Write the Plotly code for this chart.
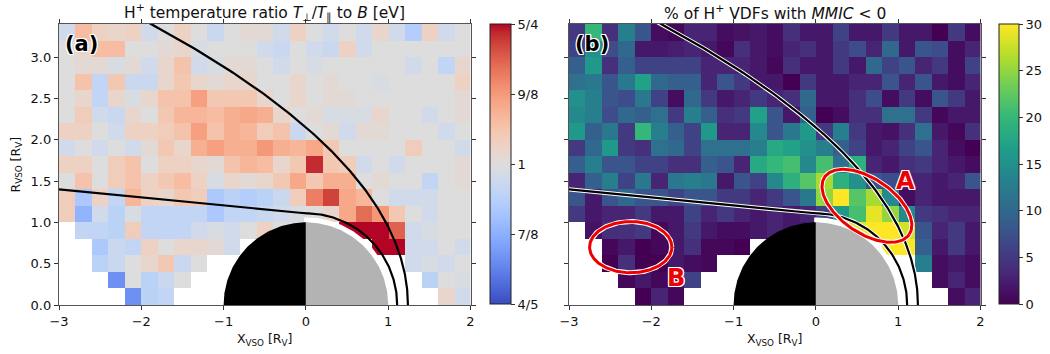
import numpy as np
import plotly.graph_objects as go

# ---------------------------------------------------------------- data
# spatial bins (Venus radii)
x_edges = np.linspace(-3.0, 2.0, 26)
y_edges = np.linspace(0.0, 3.4, 18)

N = None
# H+ temperature anisotropy T_perp / T_par, rows from R = 3.2-3.4 down to R = 0.0-0.2
ratio_rows = [
    [0.98, 1.07, 1.03, 1.02, 1.03, 0.98, 1.00, 1.03, 1.00, 0.97, 1.00, 1.01, 1.01, 0.98, 1.03, 1.00, 0.98, 1.00, 0.98, 1.02, 0.98, 0.94, 1.03, 0.98, 1.00],
    [1.00, 1.02, 1.07, 1.07, 1.00, 1.00, 1.01, 1.02, 0.99, 1.00, 1.00, 1.00, 0.98, 0.97, 1.00, 0.98, 0.97, 1.03, 0.98, 1.00, 1.00, 1.00, 1.00, 1.00, 1.00],
    [1.00, 1.01, 1.01, 0.99, 1.01, 0.98, 1.02, 1.06, 0.98, 0.99, 1.01, 1.01, 1.00, 0.98, 1.00, 0.99, 1.00, 1.00, 1.00, 1.00, 1.00, 0.98, 1.00, 0.96, 1.02],
    [1.00, 1.06, 0.96, 1.05, 0.97, 0.97, 1.02, 1.05, 1.02, 1.01, 1.02, 1.02, 1.00, 1.00, 1.02, 1.00, 1.01, 1.00, 1.00, 0.99, 1.00, 1.00, 1.00, 1.00, 1.03],
    [1.00, 1.02, 0.96, 1.02, 0.99, 1.02, 1.06, 1.06, 1.11, 1.05, 1.05, 1.05, 1.02, 1.00, 1.02, 1.00, 1.01, 1.01, 1.00, 1.00, 1.00, 1.00, 1.00, 1.00, 1.01],
    [1.00, 1.04, 0.98, 0.97, 1.02, 1.00, 1.05, 1.08, 1.08, 1.07, 1.09, 1.10, 1.09, 1.02, 1.00, 1.01, 0.99, 0.99, 0.99, 1.02, 1.00, 1.00, 0.98, 1.00, 1.01],
    [1.03, 1.03, 1.00, 0.98, 1.03, 1.03, 1.04, 1.06, 1.11, 1.06, 1.09, 1.08, 1.04, 1.06, 0.97, 1.00, 1.01, 0.98, 1.01, 1.01, 1.00, 1.00, 1.00, 0.98, 1.00],
    [0.98, 1.00, 0.98, 1.00, 0.98, 1.01, 1.05, 1.02, 1.09, 1.11, 1.09, 1.09, 1.12, 1.09, 1.08, 1.10, 1.05, 1.00, 1.00, 1.00, 1.00, 1.04, 1.00, 1.00, 0.98],
    [1.03, 1.03, 1.00, 1.04, 1.06, 1.00, 1.03, 1.03, 1.02, 1.01, 1.06, 1.08, 1.07, 1.02, 1.05, 1.23, 1.05, 1.04, 0.98, 1.00, 0.98, 1.00, 1.00, 1.00, 1.01],
    [1.00, 1.06, 1.00, 1.04, 1.06, 1.03, 1.05, 1.07, 1.03, 0.99, 1.02, 1.01, 1.02, 1.05, 1.10, 1.05, 1.09, 1.09, 1.00, 1.01, 1.00, 1.00, 0.96, 1.00, 1.01],
    [1.04, 0.93, 1.03, 0.96, 1.08, 1.03, 1.02, 1.05, 1.04, 0.93, 0.95, 0.94, 0.95, 0.97, 1.04, 1.15, 1.21, 1.10, 1.08, 1.00, 0.98, 0.98, 0.98, 1.00, 1.00],
    [1.04, 0.90, 0.98, 0.95, 0.99, 0.96, 0.96, 0.96, 0.96, 0.93, 0.96, 0.96, 0.97, 0.98, 0.99, 1.00, 1.02, 1.10, 1.17, 1.12, 1.05, 1.00, 0.98, 1.00, 1.00],
    [N, 0.96, 0.96, 0.95, 1.04, 0.96, 0.96, 0.96, 0.98, 0.99, 0.98, 1.00, 1.03, 1.00, 1.00, N, N, 1.30, 1.30, 1.30, 1.18, 0.98, 0.99, 1.00, 1.00],
    [N, N, 0.93, 0.97, 0.96, 1.03, 1.00, 1.02, 1.02, 1.01, 0.98, N, N, N, N, N, N, N, N, 1.30, 1.28, 0.98, 0.98, 1.00, 0.98],
    [N, N, 0.95, 0.97, 1.00, 1.02, 1.05, 0.97, 1.00, N, N, N, N, N, N, N, N, N, N, N, N, 0.98, 0.99, 0.98, 1.00],
    [N, N, N, 0.86, 1.00, 0.95, 0.97, 1.00, N, N, N, N, N, N, N, N, N, N, N, N, N, N, 0.95, 1.00, 0.99],
    [N, N, N, N, 0.86, 0.95, 0.96, N, N, N, N, N, N, N, N, N, N, N, N, N, N, N, N, 1.02, 0.98],
]

# percentage of H+ VDFs with MMIC < 0, same bins and row order
mmic_rows = [
    [5, 20, 4, 13, 8, 1, 0.5, 3, 3, 1, 1.5, 2, 1, 4, 2, 2, 6, 2, 2, 5, 2, 2, 0, 5, 1],
    [6, 15, 7, 10, 2, 2, 2.5, 3, 2, 0.5, 4, 2, 1, 3, 4, 2, 5, 7, 3, 10, 2, 8, 7, 1, 3],
    [9, 16, 4, 9, 6, 6, 6, 6, 3, 3, 3, 2, 0.5, 4, 2, 2, 5, 2, 10, 6, 8, 3, 5, 1, 6],
    [11, 12, 8, 12, 17, 10, 9, 9, 3, 8, 5, 2, 2, 0, 5, 2, 2, 3, 3, 8, 3, 8, 2, 1, 3],
    [15, 13, 8, 7, 12, 6, 1, 10, 5, 2, 3, 5, 3, 4, 10, 2, 2, 4, 7, 1, 5, 1, 8, 5, 2],
    [14, 13, 7, 10, 9, 11, 5, 13, 9, 4, 5, 17, 8, 2, 9, 0, 1, 4, 4, 11, 11, 5, 0.5, 2, 2],
    [16, 9, 12, 5, 20, 13, 9, 6, 16, 3, 3, 14, 8, 12, 16, 5, 13, 5, 2, 1.5, 4, 11, 2, 0.5, 4],
    [5, 10, 16, 5, 4, 11, 10, 6, 11, 11, 11, 13, 18, 17, 15, 13, 9, 6, 2, 3, 6, 8, 3, 1, 0],
    [9, 13, 8, 8, 6, 6, 4, 4, 9, 8, 3, 18, 20, 21, 14, 21, 11, 19, 3, 2, 4, 5, 3, 2, 1],
    [3, 9, 13, 6, 12, 3, 12, 13, 12, 2, 8, 6, 14, 19, 22, 26, 19, 15, 8, 7, 3, 3, 2, 3, 8],
    [8, 2, 8, 10, 8, 8, 6, 8, 8, 5, 5, 3, 5, 8, 12, 25, 30, 22, 26, 14, 1, 3, 2, 2, 2],
    [5, 2, 3, 3, 5, 2, 2, 6, 3, 5, 3, 2, 3, 2, 3, 6, 16, 21, 29, 25, 14, 5, 4, 3, 3],
    [N, 1.5, 4, 4, 5, 0.5, 2, 5, 2, 1, 1, 2, 3, 2, 2, N, N, 29, 30, 30, 28, 8, 3, 5, 2],
    [N, N, 0.5, 2, 0, 0.5, 2, 4, 0.5, 0.5, 0, N, N, N, N, N, N, N, N, 30, 30, 9, 2, 5, 2],
    [N, N, 0, 4, 0, 0, 2, 1, 0.5, N, N, N, N, N, N, N, N, N, N, N, N, 13, 1, 2, 1],
    [N, N, N, 0.5, 2, 0.5, 1, 6, N, N, N, N, N, N, N, N, N, N, N, N, N, N, 1, 3, 1],
    [N, N, N, N, 0, 3, 0.5, N, N, N, N, N, N, N, N, N, N, N, N, N, N, N, N, 1, 3],
]

ratio_ticks = ["4/5", "7/8", "1", "9/8", "5/4"]
pct_ticks = [0, 5, 10, 15, 20, 25, 30]

# boundary models: bow shock (conic about a focus) and induced magnetosphere boundary
bs_x0, bs_L, bs_eps = 0.3, 1.873, 0.993
imb_r, imb_slope = 1.109, -0.097

# -------------------------------------------------------------- helpers
ratio = np.array(ratio_rows[::-1], dtype=float)
mmic = np.array(mmic_rows[::-1], dtype=float)

coolwarm = [
    (59, 76, 192), (68, 90, 204), (77, 104, 215), (87, 117, 225), (98, 130, 234),
    (108, 142, 241), (119, 154, 247), (130, 165, 251), (141, 176, 254), (152, 185, 255),
    (163, 194, 255), (174, 201, 253), (184, 208, 249), (194, 213, 244), (204, 217, 238),
    (213, 219, 230), (221, 221, 221), (229, 216, 209), (236, 211, 197), (241, 204, 185),
    (245, 196, 173), (247, 187, 160), (247, 177, 148), (247, 166, 135), (244, 154, 123),
    (241, 141, 111), (236, 127, 99), (229, 112, 88), (222, 96, 77), (213, 80, 66),
    (203, 62, 56), (192, 40, 47), (180, 4, 38),
]
coolwarm_scale = [[i / (len(coolwarm) - 1), "rgb(%d,%d,%d)" % c] for i, c in enumerate(coolwarm)]

lim = np.log(1.25)
FONT = "DejaVu Sans"
W, H = 1050, 354
dom_y = [1 - 305 / H, 1 - 24 / H]
dom_a = [59 / W, 470.5 / W]
dom_b = [569 / W, 980.5 / W]

th_bs = np.linspace(0, np.deg2rad(135), 300)
r_bs = bs_L / (1 + bs_eps * np.cos(th_bs))
bs_x = bs_x0 + r_bs * np.cos(th_bs)
bs_y = r_bs * np.sin(th_bs)

th_day = np.linspace(0, np.pi / 2, 120)
x_night = np.linspace(-0.01, -3.2, 50)
imb_x = np.concatenate([imb_r * np.cos(th_day), x_night])
imb_y = np.concatenate([imb_r * np.sin(th_day), imb_r + imb_slope * x_night])


def ellipse(xc, yc, a, b, ang):
    t = np.linspace(0, 2 * np.pi, 200)
    c, s = np.cos(np.deg2rad(ang)), np.sin(np.deg2rad(ang))
    ex, ey = a * np.cos(t), b * np.sin(t)
    return xc + ex * c - ey * s, yc + ex * s + ey * c


def wedge(r, t0, t1):
    t = np.linspace(t0, t1, 90)
    return np.concatenate([[0], r * np.cos(t), [0]]), np.concatenate([[0], r * np.sin(t), [0]])


fig = go.Figure()

cb_common = dict(y=1 - 164 / H, yanchor="middle", len=280 / H, lenmode="fraction",
                 thicknessmode="pixels", xpad=0, ypad=0, outlinewidth=1, outlinecolor="#222",
                 ticks="outside", ticklen=4, tickcolor="#333",
                 tickfont=dict(family=FONT, size=13, color="#111"))

fig.add_trace(go.Heatmap(
    x=x_edges, y=y_edges, z=np.log(ratio), zmin=-lim, zmax=lim,
    colorscale=coolwarm_scale, hoverinfo="skip", xaxis="x", yaxis="y",
    colorbar=dict(x=490 / W, xanchor="left", thickness=21,
                  tickvals=list(np.linspace(-lim, lim, 5)), ticktext=ratio_ticks, **cb_common),
))
fig.add_trace(go.Heatmap(
    x=x_edges, y=y_edges, z=mmic, zmin=0, zmax=30,
    colorscale="Viridis", hoverinfo="skip", xaxis="x2", yaxis="y2",
    colorbar=dict(x=999 / W, xanchor="left", thickness=20, tickvals=pct_ticks, **cb_common),
))

for xa, ya, halo in (("x", "y", False), ("x2", "y2", True)):
    # planet: white rim on the day side, night side black, day side grey
    for (wx, wy), col in ((wedge(1.06, -0.02, np.pi / 2 + 0.02), "white"),
                          (wedge(1.0, np.pi / 2, np.pi), "black"),
                          (wedge(1.0, 0, np.pi / 2), "#b3b3b3")):
        fig.add_trace(go.Scatter(x=wx, y=wy, fill="toself", fillcolor=col,
                                 line=dict(width=0), mode="lines",
                                 xaxis=xa, yaxis=ya, hoverinfo="skip"))
    for lx, ly in ((bs_x, bs_y), (imb_x, imb_y)):
        if halo:
            fig.add_trace(go.Scatter(x=lx, y=ly, mode="lines", line=dict(color="white", width=4.2),
                                     xaxis=xa, yaxis=ya, hoverinfo="skip"))
        fig.add_trace(go.Scatter(x=lx, y=ly, mode="lines", line=dict(color="black", width=2.2),
                                 xaxis=xa, yaxis=ya, hoverinfo="skip"))

# highlighted regions A and B
for (xc, yc, a, b, ang) in ((0.62, 1.20, 0.62, 0.33, -34), (-2.25, 0.70, 0.50, 0.31, 0)):
    ex, ey = ellipse(xc, yc, a, b, ang)
    fig.add_trace(go.Scatter(x=ex, y=ey, mode="lines", line=dict(color="white", width=5),
                             xaxis="x2", yaxis="y2", hoverinfo="skip"))
    fig.add_trace(go.Scatter(x=ex, y=ey, mode="lines", line=dict(color="#ee0000", width=3),
                             xaxis="x2", yaxis="y2", hoverinfo="skip"))

outline_w = ("-1px -1px 0 #fff, 1px -1px 0 #fff, -1px 1px 0 #fff, 1px 1px 0 #fff, "
             "0 1px 0 #fff, 0 -1px 0 #fff, 1px 0 0 #fff, -1px 0 0 #fff")


def label(text, x, y, size=12.5, **kw):
    d = dict(text=text, x=x, y=y, xref="paper", yref="paper", showarrow=False,
             xanchor="center", yanchor="middle",
             font=dict(family=FONT, size=size, color="#111"))
    d.update(kw)
    return d


annotations = [
    label("H<sup>+</sup> temperature ratio <i>T</i><sub>⊥</sub>/<i>T</i><sub>∥</sub> to <i>B</i> [eV]",
          sum(dom_a) / 2, 1 - 12 / H, size=15.5),
    label("% of H<sup>+</sup> VDFs with <i>MMIC</i> &lt; 0", sum(dom_b) / 2, 1 - 12 / H, size=15.5),
    label("X<sub>VSO</sub> [R<sub>V</sub>]", sum(dom_a) / 2, 1 - 339 / H),
    label("X<sub>VSO</sub> [R<sub>V</sub>]", sum(dom_b) / 2, 1 - 339 / H),
    label("R<sub>VSO</sub> [R<sub>V</sub>]", 16 / W, sum(dom_y) / 2, textangle=-90),
    dict(text="<b>(a)</b>", x=-2.95, y=3.16, xref="x", yref="y", xanchor="left", yanchor="middle",
         showarrow=False, font=dict(family=FONT, size=21, color="black", shadow=outline_w)),
    dict(text="<b>(b)</b>", x=-2.95, y=3.16, xref="x2", yref="y2", xanchor="left", yanchor="middle",
         showarrow=False, font=dict(family=FONT, size=21, color="black", shadow=outline_w)),
    dict(text="<b>A</b>", x=1.09, y=1.50, xref="x2", yref="y2", showarrow=False,
         xanchor="center", yanchor="middle",
         font=dict(family=FONT, size=24, color="#ee0000", shadow=outline_w)),
    dict(text="<b>B</b>", x=-1.70, y=0.33, xref="x2", yref="y2", showarrow=False,
         xanchor="center", yanchor="middle",
         font=dict(family=FONT, size=24, color="#ee0000", shadow=outline_w)),
]

axis_style = dict(showline=True, linecolor="#555", linewidth=1.3, mirror="ticks",
                  ticks="outside", ticklen=4, tickwidth=1, tickcolor="#333",
                  showgrid=False, zeroline=False, automargin=False,
                  tickfont=dict(family=FONT, size=13, color="#111"))

fig.update_layout(
    width=W, height=H, margin=dict(l=0, r=0, t=0, b=0, pad=0, autoexpand=False),
    paper_bgcolor="white", plot_bgcolor="white", showlegend=False,
    xaxis=dict(domain=dom_a, range=[-3, 2], anchor="y", dtick=1, **axis_style),
    yaxis=dict(domain=dom_y, range=[0, 3.4], anchor="x", dtick=0.5, tickformat=".1f", **axis_style),
    xaxis2=dict(domain=dom_b, range=[-3, 2], anchor="y2", dtick=1, **axis_style),
    yaxis2=dict(domain=dom_y, range=[0, 3.4], anchor="x2", dtick=0.5, showticklabels=False, **axis_style),
    annotations=annotations,
)

fig.write_html("out.html")
